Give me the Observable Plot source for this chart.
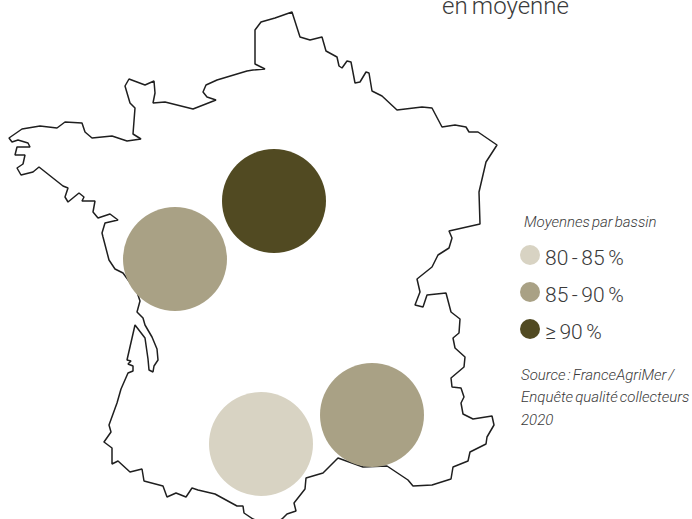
<!DOCTYPE html>
<html><head><meta charset="utf-8">
<script src="https://cdn.jsdelivr.net/npm/d3@7"></script>
<script src="https://cdn.jsdelivr.net/npm/@observablehq/plot@0.6"></script>
<style>html,body{margin:0;padding:0;background:#fff;overflow:hidden} svg text{word-spacing:-1.6px}</style>
</head><body><div id="c"></div>
<script>
const outline = [[104,442],[111,432],[109,425],[117,403],[121,389],[128,373],[133,371],[133,366],[128,364],[131,361],[127,360],[135,325],[145,338],[148,359],[149,370],[153,372],[154,366],[158,360],[157,349],[152,337],[145,325],[143,318],[137,312],[140,301],[137,292],[123,273],[115,269],[109,260],[103,237],[102,233],[105,223],[118,220],[110,214],[98,218],[93,212],[95,201],[82,201],[84,197],[79,193],[68,202],[65,197],[68,188],[63,186],[39,167],[33,172],[21,175],[17,168],[23,164],[25,155],[15,155],[17,147],[30,147],[28,143],[18,140],[12,142],[9,138],[22,129],[40,126],[57,128],[65,122],[82,123],[85,132],[92,138],[112,136],[127,141],[141,139],[133,134],[135,108],[130,103],[125,86],[129,79],[145,85],[154,81],[155,93],[153,103],[165,102],[193,109],[216,100],[207,97],[203,92],[206,85],[217,80],[247,71],[253,70],[265,69],[255,64],[255,30],[261,22],[275,18],[292,12],[300,37],[310,40],[322,37],[326,51],[337,57],[339,66],[342,68],[347,61],[351,62],[355,83],[360,82],[366,72],[369,73],[372,91],[382,96],[397,110],[422,107],[432,108],[442,127],[455,125],[466,127],[469,132],[478,132],[497,145],[486,162],[479,192],[480,224],[449,231],[452,238],[449,248],[438,255],[432,267],[417,279],[420,292],[415,305],[423,307],[427,295],[446,293],[451,312],[460,319],[459,333],[453,338],[455,348],[465,357],[464,367],[451,378],[452,387],[461,388],[464,397],[461,403],[463,414],[473,419],[492,416],[494,425],[487,437],[486,444],[470,452],[468,461],[453,467],[451,479],[432,485],[413,486],[408,480],[387,466],[363,467],[338,458],[323,473],[306,478],[305,489],[294,503],[296,511],[287,514],[282,519],[270,526],[253,519],[244,513],[243,506],[237,506],[215,494],[198,490],[192,488],[186,497],[176,493],[167,497],[163,486],[144,481],[142,469],[130,472],[118,461],[112,464],[112,448],[104,442]];

const basinX = [274,175,261,372];
const basinY = [201,259,444,415];
const basinClass = ["≥90","85-90","80-85","85-90"];

const classes = ["80-85","85-90","≥90"];
const classColors = ["#d8d3c3","#a9a185","#514a22"];
const legendLabels = ["80 - 85 %","85 - 90 %","≥ 90 %"];
const legendY = [255,292,329];

const title = "en moyenne";
const legendTitle = "Moyennes par bassin";
const sourceLines = ["Source : FranceAgriMer /","Enquête qualité collecteurs","2020"];
const sourceY = [375,397,420];

const basins = basinX.map((x,i)=>({x,y:basinY[i],c:basinClass[i]}));
const legend = classes.map((c,i)=>({c,label:legendLabels[i],y:legendY[i]}));
const FONT = "Roboto, sans-serif";
const INK = "#3a3a3a";

const plot = Plot.plot({
  width:692,height:519,margin:0,
  x:{domain:[0,692],range:[-0.5,691.5],axis:null},
  y:{domain:[0,519],range:[-0.5,518.5],axis:null},
  color:{domain:classes,range:classColors},
  marks:[
    Plot.line(outline,{x:d=>d[0],y:d=>d[1],stroke:"#1f1f1f",strokeWidth:1.5,strokeLinejoin:"miter",curve:"linear"}),
    Plot.dot(basins,{x:"x",y:"y",r:52,fill:"c"}),
    Plot.dot(legend,{x:()=>530,y:"y",r:10,fill:"c"}),
    Plot.text(legend,{x:()=>545,y:d=>d.y+3,text:"label",textAnchor:"start",fontFamily:FONT,fontWeight:300,fontSize:21,fill:INK}),
    Plot.text([legendTitle],{x:()=>524,y:()=>222,text:d=>d,textAnchor:"start",fontFamily:FONT,fontWeight:300,fontStyle:"italic",fontSize:15,fill:INK}),
    Plot.text(sourceLines,{x:()=>521,y:(d,i)=>sourceY[i],text:d=>d,textAnchor:"start",fontFamily:FONT,fontWeight:300,fontStyle:"italic",fontSize:15,fill:INK}),
    Plot.text([title],{x:()=>442,y:()=>6,text:d=>d,textAnchor:"start",fontFamily:FONT,fontWeight:300,fontSize:24,fill:INK})
  ]
});
document.getElementById("c").appendChild(plot);
</script>
</body></html>
